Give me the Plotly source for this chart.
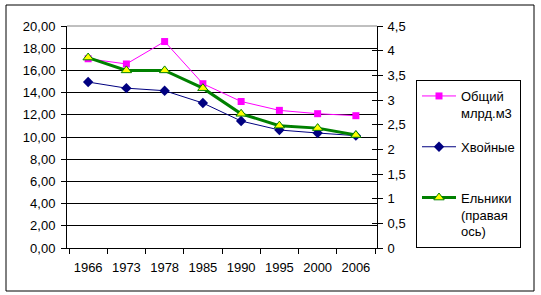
import plotly.graph_objects as go

years = ["1966", "1973", "1978", "1985", "1990", "1995", "2000", "2006"]
total = [17.05, 16.58, 18.6, 14.8, 13.2, 12.4, 12.1, 11.92]
conifer = [14.95, 14.4, 14.17, 13.06, 11.44, 10.63, 10.36, 10.12]
spruce = [3.86, 3.6, 3.6, 3.24, 2.72, 2.48, 2.43, 2.29]

names = ["Общий<br>млрд.м3", "Хвойные<br>&nbsp;", "Ельники<br>(правая<br>ось)"]

W, H = 541, 295
L, R, T, B = 67, 164, 26, 47
pw = W - L - R
ph = H - T - B

fig = go.Figure()
fig.add_trace(go.Scatter(x=years, y=total, name=names[0], mode="lines+markers",
                         line=dict(color="#FF00FF", width=1),
                         marker=dict(symbol="square", size=7, color="#FF00FF"),
                         legendgroup="a"))
fig.add_trace(go.Scatter(x=years, y=conifer, name=names[1], mode="lines+markers",
                         line=dict(color="#000080", width=1),
                         marker=dict(symbol="diamond", size=8, color="#000080"),
                         legendgroup="b"))
fig.add_trace(go.Scatter(x=years, y=spruce, name=names[2], mode="lines+markers", yaxis="y2",
                         line=dict(color="#008000", width=3),
                         marker=dict(symbol="triangle-up", size=9, color="#FFFF00",
                                     line=dict(color="#008000", width=1)),
                         legendgroup="c"))

font = dict(family="Liberation Sans, Arial, sans-serif", size=13, color="black")

fig.update_layout(
    width=W, height=H, autosize=False,
    margin=dict(l=L, r=R, t=T, b=B, pad=0),
    paper_bgcolor="white", plot_bgcolor="white",
    font=font, separators=", ",
    showlegend=True,
    legend=dict(x=(416 - L) / pw, y=(H - B - 80) / ph, xanchor="left", yanchor="top",
                bordercolor="black", borderwidth=1, bgcolor="white",
                valign="top", tracegroupgap=14, itemwidth=34,
                font=font),
    xaxis=dict(type="category", tickson="boundaries", ticks="outside", ticklen=5,
               tickcolor="black", showline=True, linecolor="black", linewidth=1,
               showgrid=False, zeroline=False, tickfont=font, ticklabelstandoff=7),
    yaxis=dict(range=[0, 20], dtick=2, tickformat=".2f", ticks="outside", ticklen=5,
               tickcolor="black", showline=True, linecolor="black", linewidth=1,
               showgrid=True, gridcolor="black", gridwidth=1, zeroline=False,
               ticklabelstandoff=3, tickfont=font),
    yaxis2=dict(range=[0, 4.5], dtick=0.5, overlaying="y", side="right",
                ticks="outside", ticklen=5, tickcolor="black", showline=True,
                linecolor="black", linewidth=1, showgrid=False, zeroline=False,
                ticklabelstandoff=2, tickfont=font),
    yaxis3=dict(range=[0, 4.5], dtick=0.5, overlaying="y", side="right",
                ticks="inside", ticklen=5, tickcolor="black", showline=False,
                showticklabels=False, showgrid=False, zeroline=False),
)
# dummy trace to activate yaxis3
fig.add_trace(go.Scatter(x=[years[0]], y=[None], yaxis="y3", showlegend=False, hoverinfo="skip"))

# grey top border of plot area
fig.add_shape(type="line", xref="paper", yref="paper", x0=0, x1=1, y0=1, y1=1,
              line=dict(color="#808080", width=1), layer="above")
# outer chart frame
fig.add_shape(type="rect", xref="paper", yref="paper",
              x0=(6 - L) / pw, x1=(534 - L) / pw,
              y0=(H - B - 291) / ph, y1=(H - B - 5) / ph,
              line=dict(color="black", width=1), fillcolor="rgba(0,0,0,0)", layer="above")

fig.write_html("out.html", config={"displayModeBar": False},
               post_script="document.body.style.margin='0';")
